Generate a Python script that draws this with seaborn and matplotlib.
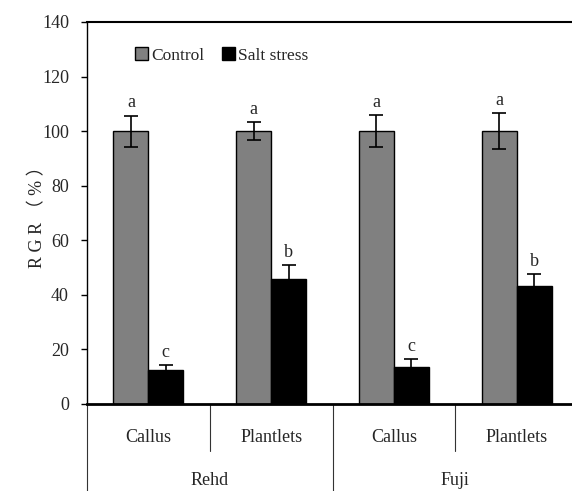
import matplotlib
matplotlib.use("Agg")
import matplotlib.pyplot as plt
import matplotlib.transforms as mtransforms
import seaborn as sns
import pandas as pd
import numpy as np

cultivars = ["Rehd", "Rehd", "Fuji", "Fuji"]
tissues = ["Callus", "Plantlets", "Callus", "Plantlets"]
samples = ["Rehd Callus", "Rehd Plantlets", "Fuji Callus", "Fuji Plantlets"]
treatments = ["Control", "Salt stress"]
control_vals = [100, 100, 100, 100]
control_err = [5.7, 3.3, 5.8, 6.5]
salt_vals = [12.5, 45.9, 13.7, 43.3]
salt_err = [1.7, 5.0, 2.7, 4.3]
control_letters = ["a", "a", "a", "a"]
salt_letters = ["c", "b", "c", "b"]

sns.set_theme(style="white")
plt.rcParams["font.family"] = ["Liberation Serif", "DejaVu Serif"]

df = pd.DataFrame({
    "sample": samples * 2,
    "treatment": [treatments[0]] * 4 + [treatments[1]] * 4,
    "RGR": control_vals + salt_vals,
    "err": control_err + salt_err,
    "letter": control_letters + salt_letters,
})

fig = plt.figure(figsize=(5.72, 4.91), dpi=100)
ax = fig.add_axes([87 / 572, 87 / 491, 491 / 572, 382 / 491])

sns.barplot(data=df, x="sample", y="RGR", hue="treatment", order=samples,
            hue_order=treatments, palette=["#808080", "#000000"],
            width=0.57, errorbar=None, edgecolor="black", linewidth=1.0,
            ax=ax, legend=True)

# error bars & letters
for ti, t in enumerate(treatments):
    cont = ax.containers[ti]
    sub = df[df["treatment"] == t].set_index("sample").loc[samples]
    for bar, (_, row) in zip(cont, sub.iterrows()):
        xc = bar.get_x() + bar.get_width() / 2
        ax.errorbar(xc, row["RGR"], yerr=row["err"], fmt="none", ecolor="black",
                    elinewidth=1.2, capsize=5, capthick=1.2)
        ax.text(xc, row["RGR"] + row["err"] + 1.5, row["letter"], ha="center",
                va="bottom", fontsize=13)

ax.set_ylim(0, 140)
ax.set_xlim(-0.5, 3.5)
ax.set_yticks(np.arange(0, 141, 20))
ax.tick_params(axis="y", which="both", left=True, direction="out", length=4,
               width=1, pad=9, labelsize=13, color="black")
ax.set_xticks(range(4))
ax.set_xticklabels(tissues, fontsize=13)
ax.tick_params(axis="x", bottom=False, pad=12)
ax.set_xlabel("")
ax.set_ylabel("R G R （ % ）", fontsize=13, labelpad=-3,
              family=["Liberation Serif", "Noto Sans CJK SC"])

for s in ["left", "top", "right", "bottom"]:
    ax.spines[s].set_color("black")
ax.spines["left"].set_linewidth(1.0)
ax.spines["top"].set_linewidth(1.5)
ax.spines["bottom"].set_linewidth(2.0)

trans = mtransforms.blended_transform_factory(ax.transData, ax.transAxes)
for xb in [-0.5, 1.5, 3.5]:
    ax.plot([xb, xb], [0, -0.23], color="#333333", lw=0.8, transform=trans, clip_on=False)
for xb in [0.5, 2.5]:
    ax.plot([xb, xb], [0, -0.123], color="#333333", lw=0.8, transform=trans, clip_on=False)
for xg, name in [(0.5, "Rehd"), (2.5, "Fuji")]:
    ax.text(xg, -0.2, name, transform=trans, ha="center", va="center", fontsize=13)

leg = ax.legend(loc="upper left", bbox_to_anchor=(0.065, 0.975), ncol=2, frameon=False,
                fontsize=12.5, handlelength=0.75, handleheight=0.75, handletextpad=0.2,
                columnspacing=1.0)

fig.savefig("out.png", dpi=100)
